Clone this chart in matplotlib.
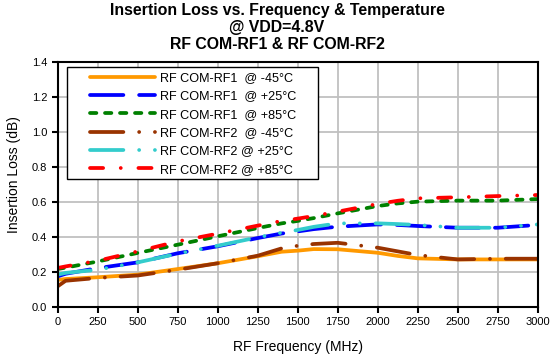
import matplotlib.pyplot as plt
from matplotlib.patches import Rectangle

plt.rcParams['font.family'] = ['Liberation Sans', 'DejaVu Sans']

freq = [0, 50, 250, 500, 750, 1000, 1250, 1400, 1500, 1600, 1750, 2000, 2125, 2250, 2500, 2750, 3000]

rf1_m45 = [0.155, 0.160, 0.170, 0.185, 0.217, 0.250, 0.290, 0.316, 0.322, 0.331, 0.330, 0.310, 0.292, 0.278, 0.272, 0.272, 0.272]
rf1_p25 = [0.175, 0.190, 0.222, 0.255, 0.307, 0.347, 0.394, 0.420, 0.432, 0.445, 0.459, 0.472, 0.469, 0.463, 0.453, 0.453, 0.469]
rf1_p85 = [0.217, 0.225, 0.260, 0.309, 0.356, 0.404, 0.451, 0.478, 0.492, 0.508, 0.535, 0.577, 0.592, 0.602, 0.608, 0.608, 0.617]
rf2_m45 = [0.118, 0.150, 0.166, 0.180, 0.213, 0.250, 0.293, 0.335, 0.350, 0.360, 0.367, 0.339, 0.318, 0.297, 0.272, 0.276, 0.276]
rf2_p25 = [0.185, 0.195, 0.213, 0.255, 0.305, 0.350, 0.398, 0.425, 0.440, 0.458, 0.478, 0.478, 0.474, 0.469, 0.453, 0.453, 0.472]
rf2_p85 = [0.223, 0.232, 0.264, 0.318, 0.375, 0.419, 0.465, 0.492, 0.505, 0.520, 0.545, 0.589, 0.607, 0.621, 0.627, 0.634, 0.640]

labels = ['RF COM-RF1  @ -45°C', 'RF COM-RF1  @ +25°C', 'RF COM-RF1  @ +85°C',
          'RF COM-RF2  @ -45°C', 'RF COM-RF2 @ +25°C', 'RF COM-RF2 @ +85°C']

fig = plt.figure(figsize=(5.54, 3.56), dpi=100)
ax = fig.add_axes([0.104, 0.1376, 0.8666, 0.6882])

lw = 2.7
ax.plot(freq, rf1_m45, color='#FF9900', lw=lw, label=labels[0], solid_capstyle='round')
ax.plot(freq, rf1_p25, color='#0000FF', lw=lw, label=labels[1], dashes=(8.9, 4.2), dash_capstyle='round')
ax.plot(freq, rf1_p85, color='#008000', lw=lw, label=labels[2], dashes=(1.7, 2.3), dash_capstyle='round')
ax.plot(freq, rf2_m45, color='#993300', lw=lw, label=labels[3], dashes=(8.9, 4.2, 0.01, 4.2), dash_capstyle='round')
ax.plot(freq, rf2_p25, color='#33CCCC', lw=lw, label=labels[4], dashes=(8.9, 4.2, 0.01, 4.2, 0.01, 4.2), dash_capstyle='round')
ax.plot(freq, rf2_p85, color='#FF0000', lw=lw, label=labels[5], dashes=(3.5, 4.7, 0.01, 4.7), dash_capstyle='round')

ax.set_xlim(0, 3000)
ax.set_ylim(0, 1.4)
ax.set_xticks(range(0, 3001, 250))
ax.set_yticks([i * 0.2 for i in range(8)])
ax.yaxis.set_major_formatter(plt.FormatStrFormatter('%.1f'))
ax.grid(True, color='#C0C0C0', lw=1.3)
ax.set_axisbelow(True)
for s in ax.spines.values():
    s.set_linewidth(1.5)
ax.tick_params(axis='both', labelsize=8, width=1.5, length=4, direction='out')

ax.set_xlabel('RF Frequency (MHz)', fontsize=10, labelpad=9)
ax.set_ylabel('Insertion Loss (dB)', fontsize=10, labelpad=7)
ax.yaxis.set_label_coords(-0.077, 0.54)
fig.text(0.5, 1 - 27.5 / 356, 'Insertion Loss vs. Frequency & Temperature\n@ VDD=4.8V\nRF COM-RF1 & RF COM-RF2',
         ha='center', va='center', fontsize=11.4, fontweight='bold', linespacing=1.17)

# legend box drawn separately so the padding matches
ax.add_patch(Rectangle((0.019, 0.522), 0.523, 0.458, transform=ax.transAxes,
                       facecolor='white', edgecolor='black', lw=1.0, zorder=4.5))
leg = ax.legend(loc='upper left', bbox_to_anchor=(0.055, 0.985), fontsize=9.1, handlelength=5.1,
                frameon=False, borderpad=0, labelspacing=0.5, handletextpad=0.4)
leg.set_zorder(5)

fig.savefig('out.png', dpi=100)
